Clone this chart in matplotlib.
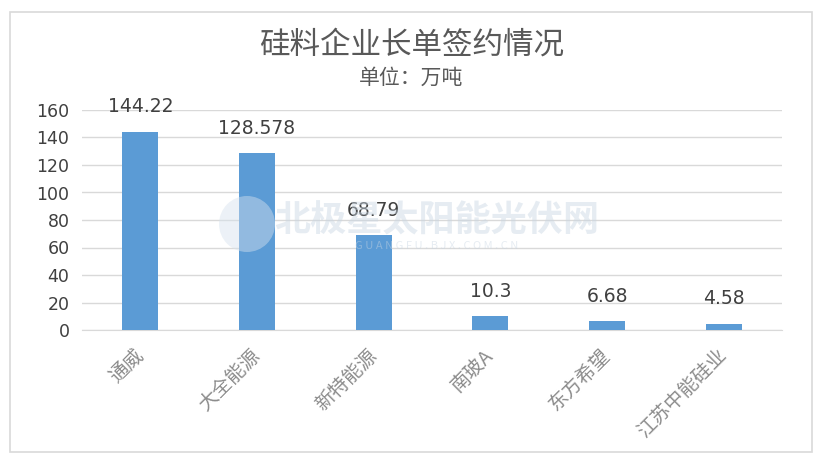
import matplotlib
matplotlib.use("Agg")
import matplotlib.pyplot as plt
from matplotlib.patches import Rectangle, Ellipse

plt.rcParams['font.family'] = ['Noto Sans CJK SC', 'DejaVu Sans']

categories = ["通威", "大全能源", "新特能源", "南玻A", "东方希望", "江苏中能硅业"]
values = [144.22, 128.578, 68.79, 10.3, 6.68, 4.58]
value_labels = ["144.22", "128.578", "68.79", "10.3", "6.68", "4.58"]
yticks = [0, 20, 40, 60, 80, 100, 120, 140, 160]

fig = plt.figure(figsize=(8.23, 4.74), dpi=100)
fig.patches.append(Rectangle((10/823, 1-452/474), 802/823, 440/474, transform=fig.transFigure,
                             fill=False, edgecolor='#d9d9d9', linewidth=1.2))

# faint watermark (behind the chart)
fig.patches.append(Ellipse((247/823, 1-224/474), 56/823, 56/474, transform=fig.transFigure,
                           facecolor='#d6e2ee', edgecolor='none', alpha=0.45, zorder=0))
fig.text(437/823, 1-221/474, "北极星太阳能光伏网", ha='center', va='center', fontsize=26,
         fontweight='bold', style='italic', color='#c9d6e3', alpha=0.45, zorder=0)
fig.text(437/823, 1-246/474, "G U A N G F U . B J X . C O M . C N", ha='center', va='center', fontsize=8,
         color='#c9d6e3', alpha=0.45, zorder=0)

ax = fig.add_axes([82/823, 1-330/474, 700/823, 220/474])
ax.patch.set_alpha(0)
x = range(len(categories))
ax.bar(x, values, width=0.31, color='#5B9BD5', zorder=3)
ax.set_xlim(-0.5, len(categories)-0.5)
ax.set_ylim(0, 160)
ax.set_yticks(yticks)
ax.set_yticklabels([str(t) for t in yticks], family='DejaVu Sans', fontsize=12.5, color='#404040')
ax.set_xticks(list(x))
ax.set_xticklabels(categories, rotation=45, ha='right', va='center', rotation_mode='anchor',
                   fontsize=14, color='#8c8c8c', fontweight='light')
ax.tick_params(axis='y', length=0, pad=9)
ax.tick_params(axis='x', length=0, pad=16)
ax.grid(axis='y', color='#d9d9d9', linewidth=1, zorder=0)
for s in ['top', 'right', 'left']:
    ax.spines[s].set_visible(False)
ax.spines['bottom'].set_color('#d9d9d9')

for i, (v, lab) in enumerate(zip(values, value_labels)):
    ax.annotate(lab, (i, v), xytext=(0, 11), textcoords='offset points', ha='center', va='bottom',
                family='DejaVu Sans', fontsize=13.5, color='#404040', zorder=4)

fig.text(0.5, 1-45/474, "硅料企业长单签约情况", ha='center', va='center', fontsize=22, color='#595959')
fig.text(0.5, 1-78/474, "单位：万吨", ha='center', va='center', fontsize=15, color='#595959')

fig.savefig("out.png", dpi=100)
